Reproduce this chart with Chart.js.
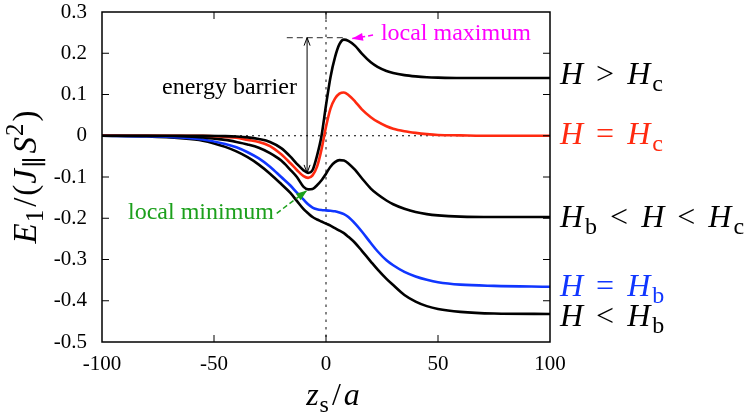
<!DOCTYPE html>
<html>
<head>
<meta charset="utf-8">
<script src="https://cdn.jsdelivr.net/npm/chart.js@4.4.1/dist/chart.umd.min.js"></script>
<style>
  html, body { margin: 0; padding: 0; background: #fff; }
  #wrap { width: 753px; height: 418px; }
</style>
</head>
<body>
<div id="wrap"><canvas id="energyChart" width="753" height="418"></canvas></div>
<script>
// wall position z_s/a
const zs = [-100, -80, -65, -55, -45, -40, -35, -30, -25, -20, -16, -13, -10, -8, -6, -4, -2, 0,
            2, 4, 6, 8, 10, 13, 16, 20, 23, 27, 30, 35, 40, 45, 50, 60, 75, 100];

// E_1 / (J S^2) for each field regime
const eAboveHc = [0, 0, 0, 0, -0.001, -0.002, -0.004, -0.008, -0.015, -0.03, -0.05, -0.068, -0.084, -0.09, -0.083, -0.048, 0.0, 0.074,
                  0.142, 0.19, 0.222, 0.233, 0.23, 0.218, 0.199, 0.178, 0.167, 0.157, 0.152, 0.147, 0.144, 0.142, 0.141, 0.14, 0.14, 0.14];
const eAtHc = [0, 0, 0, 0, -0.003, -0.005, -0.01, -0.015, -0.025, -0.045, -0.066, -0.083, -0.098, -0.102, -0.096, -0.075, -0.033, 0.022,
               0.066, 0.09, 0.102, 0.105, 0.099, 0.083, 0.064, 0.045, 0.034, 0.023, 0.017, 0.011, 0.007, 0.004, 0.002, 0.001, 0, 0];
const eBetween = [0, 0, -0.001, -0.004, -0.01, -0.015, -0.021, -0.029, -0.042, -0.06, -0.082, -0.1, -0.124, -0.13, -0.129, -0.12, -0.108, -0.092,
                  -0.075, -0.064, -0.059, -0.06, -0.067, -0.083, -0.103, -0.128, -0.142, -0.157, -0.166, -0.177, -0.185, -0.19, -0.193, -0.196, -0.197, -0.197];
const eAtHb = [0, -0.001, -0.004, -0.009, -0.02, -0.028, -0.04, -0.055, -0.075, -0.1, -0.12, -0.138, -0.155, -0.166, -0.174, -0.178, -0.18, -0.181,
               -0.182, -0.183, -0.186, -0.19, -0.197, -0.213, -0.232, -0.26, -0.28, -0.302, -0.314, -0.33, -0.341, -0.349, -0.355, -0.361, -0.364, -0.366];
const eBelowHb = [0, -0.002, -0.006, -0.012, -0.027, -0.038, -0.052, -0.07, -0.092, -0.117, -0.138, -0.158, -0.178, -0.188, -0.197, -0.203, -0.208, -0.213,
                  -0.218, -0.224, -0.23, -0.236, -0.245, -0.26, -0.279, -0.305, -0.324, -0.347, -0.362, -0.386, -0.402, -0.413, -0.42, -0.427, -0.431, -0.432];

const xTickValues = [-100, -50, 0, 50, 100];
const yTickValues = [-0.5, -0.4, -0.3, -0.2, -0.1, 0, 0.1, 0.2, 0.3];

const SERIF = 'Liberation Serif, DejaVu Serif, serif';

const series = [
  { values: eAboveHc, color: '#000000', shift: 6,
    tag: [['H', 'i'], ['>', 'r', 13], ['H', 'i', 13], ['c', 'sub', 2]] },
  { values: eAtHc, color: '#ff2a10', shift: 8,
    tag: [['H', 'i'], ['=', 'r', 13], ['H', 'i', 13], ['c', 'sub', 2]] },
  { values: eBetween, color: '#000000', shift: 10,
    tag: [['H', 'i'], ['b', 'sub', 2], ['<', 'r', 13], ['H', 'i', 13], ['<', 'r', 13], ['H', 'i', 13], ['c', 'sub', 2]] },
  { values: eAtHb, color: '#1036ff', shift: 9,
    tag: [['H', 'i'], ['=', 'r', 13], ['H', 'i', 13], ['b', 'sub', 2]] },
  { values: eBelowHb, color: '#000000', shift: 12,
    tag: [['H', 'i'], ['<', 'r', 13], ['H', 'i', 13], ['b', 'sub', 2]] }
];

// lay out a little formula: [text, kind, gap before]
function mathRun(ctx, parts, size) {
  return parts.map(([text, kind, gap = 0]) => {
    const small = kind === 'sub' || kind === 'sup';
    const px = small ? Math.round(size * 0.75) : size;
    const font = (kind === 'i' ? 'italic ' : '') + px + 'px ' + SERIF;
    ctx.font = font;
    const dy = kind === 'sub' ? size * 0.22 : kind === 'sup' ? -size * 0.4 : 0;
    return { text, font, dy, gap, w: ctx.measureText(text).width };
  });
}

function drawMath(ctx, parts, x, y, size, align) {
  const run = mathRun(ctx, parts, size);
  const total = run.reduce((s, r) => s + r.gap + r.w, 0);
  let cx = align === 'center' ? x - total / 2 : x;
  ctx.textAlign = 'left';
  ctx.textBaseline = 'alphabetic';
  run.forEach(r => {
    cx += r.gap;
    ctx.font = r.font;
    ctx.fillText(r.text, cx, y + r.dy);
    cx += r.w;
  });
}

function line(ctx, x1, y1, x2, y2) {
  ctx.beginPath();
  ctx.moveTo(x1, y1);
  ctx.lineTo(x2, y2);
  ctx.stroke();
}

function arrowHead(ctx, x1, y1, x2, y2, len, half, filled) {
  const ang = Math.atan2(y2 - y1, x2 - x1);
  const bx = x2 - len * Math.cos(ang), by = y2 - len * Math.sin(ang);
  const px = -Math.sin(ang) * half, py = Math.cos(ang) * half;
  ctx.setLineDash([]);
  ctx.beginPath();
  ctx.moveTo(bx + px, by + py);
  ctx.lineTo(x2, y2);
  ctx.lineTo(bx - px, by - py);
  if (filled) { ctx.closePath(); ctx.fill(); } else ctx.stroke();
}

const annotate = {
  id: 'annotate',
  beforeDatasetsDraw(chart) {
    const { ctx, chartArea: a, scales: { x, y } } = chart;
    ctx.save();
    // zero guides
    ctx.strokeStyle = '#000';
    ctx.lineWidth = 1;
    ctx.setLineDash([2, 4]);
    const y0 = y.getPixelForValue(0);
    line(ctx, a.left, y0, a.right, y0);
    ctx.strokeStyle = '#666';
    ctx.lineWidth = 1.6;
    ctx.setLineDash([2.5, 5]);
    const x0 = x.getPixelForValue(0);
    line(ctx, x0, a.top, x0, a.bottom);
    ctx.restore();
  },
  afterDatasetsDraw(chart) {
    const { ctx, chartArea: a, scales: { x, y } } = chart;
    ctx.save();

    // frame and inward ticks
    ctx.strokeStyle = '#000';
    ctx.setLineDash([]);
    ctx.lineWidth = 1;
    y.ticks.forEach(t => {
      const py = y.getPixelForValue(t.value);
      if (py <= a.top + 1 || py >= a.bottom - 1) return;
      line(ctx, a.left, py, a.left + 7, py);
      line(ctx, a.right - 7, py, a.right, py);
    });
    x.ticks.forEach(t => {
      const px = x.getPixelForValue(t.value);
      if (px <= a.left + 1 || px >= a.right - 1) return;
      line(ctx, px, a.bottom, px, a.bottom - 7);
      line(ctx, px, a.top, px, a.top + 7);
    });
    ctx.lineWidth = 1.5;
    ctx.strokeRect(a.left, a.top, a.width, a.height);

    // energy barrier of the H > Hc curve
    const top = Math.max(...eAboveHc);
    const bottom = Math.min(...eAboveHc);
    const zMax = zs[eAboveHc.indexOf(top)];
    const zMin = zs[eAboveHc.indexOf(bottom)];
    const bx = x.getPixelForValue(zMin) - 1;
    const yt = y.getPixelForValue(top) - 2;
    const yb = y.getPixelForValue(bottom);
    ctx.strokeStyle = '#555';
    ctx.lineWidth = 1.2;
    ctx.setLineDash([6, 4]);
    line(ctx, x.getPixelForValue(-17.5), yt, x.getPixelForValue(zMax), yt);
    ctx.strokeStyle = '#000';
    ctx.lineWidth = 1;
    ctx.setLineDash([]);
    line(ctx, bx, yt, bx, yb);
    arrowHead(ctx, bx, yb, bx, yt, 8, 3, false);
    arrowHead(ctx, bx, yt, bx, yb, 8, 3, false);
    ctx.fillStyle = '#000';
    ctx.font = '24px ' + SERIF;
    ctx.textAlign = 'right';
    ctx.textBaseline = 'alphabetic';
    ctx.fillText('energy barrier', x.getPixelForValue(-13), y.getPixelForValue(0.102));

    // local maximum
    ctx.strokeStyle = ctx.fillStyle = '#ff00ff';
    ctx.lineWidth = 1.5;
    ctx.setLineDash([5, 3]);
    const mx1 = x.getPixelForValue(21), my1 = y.getPixelForValue(0.244);
    const mx2 = x.getPixelForValue(zMax) + 8, my2 = y.getPixelForValue(top) - 1;
    line(ctx, mx1, my1, mx2, my2);
    arrowHead(ctx, mx1, my1, mx2, my2, 11, 4, true);
    ctx.textAlign = 'left';
    ctx.fillText('local maximum', x.getPixelForValue(24.5), y.getPixelForValue(0.232));

    // local minimum of the Hb < H < Hc curve
    const lo = Math.min(...eBetween.slice(0, 18));
    const zLo = zs[eBetween.indexOf(lo)];
    ctx.strokeStyle = ctx.fillStyle = '#1ca01c';
    ctx.setLineDash([5, 3]);
    const nx1 = x.getPixelForValue(-22), ny1 = y.getPixelForValue(-0.188);
    const nx2 = x.getPixelForValue(zLo) - 1, ny2 = y.getPixelForValue(lo) + 1;
    line(ctx, nx1, ny1, nx2, ny2);
    arrowHead(ctx, nx1, ny1, nx2, ny2, 11, 4, true);
    ctx.textAlign = 'right';
    ctx.fillText('local minimum', x.getPixelForValue(-23.2), y.getPixelForValue(-0.202));

    // regime labels at the right-hand end of each curve
    series.forEach(s => {
      ctx.fillStyle = s.color;
      const py = y.getPixelForValue(s.values[s.values.length - 1]) + s.shift;
      drawMath(ctx, s.tag, a.right + 10, py, 32, 'left');
    });

    // axis titles
    ctx.fillStyle = '#000';
    drawMath(ctx, [['z', 'i'], ['s', 'sub', 1], ['/', 'r', 3], ['a', 'i', 3]],
             (a.left + a.right) / 2 + 7, 405, 32, 'center');
    ctx.translate(36, (a.top + a.bottom) / 2);
    ctx.rotate(-Math.PI / 2);
    drawMath(ctx, [['E', 'i'], ['1', 'sub', 1], ['/', 'r', 3], ['(', 'r', 2], ['J', 'i', 1], ['\u2225', 'sub', 1],
                   ['S', 'i', 3], ['2', 'sup', 1], [')', 'r', 2]], 0, 0, 33, 'center');
    ctx.restore();
  }
};

new Chart(document.getElementById('energyChart'), {
  type: 'line',
  data: {
    datasets: series.map(s => ({
      data: zs.map((z, i) => ({ x: z, y: s.values[i] })),
      borderColor: s.color,
      borderWidth: 2.6,
      pointRadius: 0,
      cubicInterpolationMode: 'monotone',
      fill: false
    }))
  },
  options: {
    responsive: false,
    animation: false,
    devicePixelRatio: 1,
    layout: { padding: { top: 12, right: 203, left: 0, bottom: 0 } },
    plugins: { legend: { display: false }, tooltip: { enabled: false } },
    scales: {
      x: {
        type: 'linear', min: -100, max: 100,
        grid: { display: false, drawTicks: false },
        border: { display: false },
        ticks: { font: { family: SERIF, size: 21, lineHeight: 1 }, color: '#000', padding: 12, maxRotation: 0 },
        afterBuildTicks: s => { s.ticks = xTickValues.map(v => ({ value: v })); },
        afterFit: s => { s.height = 76; s.paddingLeft = 0; s.paddingRight = 0; }
      },
      y: {
        min: -0.5, max: 0.3,
        grid: { display: false, drawTicks: false },
        border: { display: false },
        ticks: { font: { family: SERIF, size: 21, lineHeight: 1 }, color: '#000', padding: 15,
                 callback: v => String(Math.round(v * 10) / 10) },
        afterBuildTicks: s => { s.ticks = yTickValues.map(v => ({ value: v })); },
        afterFit: s => { s.width = 102; s.paddingTop = 0; s.paddingBottom = 0; }
      }
    }
  },
  plugins: [annotate]
});
</script>
</body>
</html>
